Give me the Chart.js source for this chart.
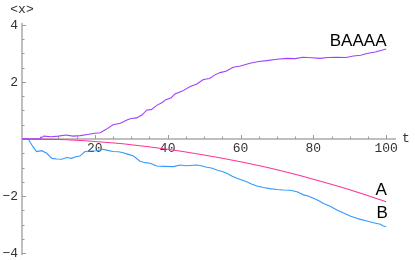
<!DOCTYPE html>
<html>
<head>
<meta charset="utf-8">
<script src="https://cdn.jsdelivr.net/npm/chart.js@4.4.0/dist/chart.umd.min.js"></script>
<style>
  html, body { margin: 0; padding: 0; background: #fff; }
</style>
</head>
<body>
<canvas id="myChart" width="415" height="260"></canvas>
<script>
// Data
const tA = [0, 10, 20, 30, 40, 50, 60, 70, 80, 90, 100];
const valuesA = [0, -0.02, -0.09, -0.2, -0.36, -0.56, -0.8, -1.08, -1.41, -1.78, -2.2];

const tB = [0, 1.7, 3, 4, 5.4, 6.8, 8.2, 9.5, 10.9, 12.3, 13.6, 14.8, 15.9, 17.3, 19, 20.5,
  22.3, 23.5, 25, 26.5, 27.8, 29.2, 30.6, 32.4, 33.8, 35.2, 37, 39, 41.6, 43.4, 45, 46.2,
  48, 49.5, 50.7, 52, 53.5, 55, 56.2, 57.6, 59, 60.4, 61.7, 63, 64.5, 66.3, 68.1, 70,
  71.8, 73.6, 75.5, 77.3, 78.6, 80, 81.4, 82.8, 84.6, 86.5, 88.3, 90.1, 91.5, 92.9,
  94.7, 96.5, 98.4, 99.2, 100];
const valuesB = [0, 0, -0.27, -0.44, -0.41, -0.5, -0.68, -0.7, -0.71, -0.65, -0.68, -0.62, -0.6, -0.44, -0.42, -0.41,
  -0.36, -0.4, -0.44, -0.45, -0.48, -0.54, -0.6, -0.78, -0.83, -0.85, -0.95, -0.96, -0.97, -0.91, -0.94, -0.93,
  -0.91, -0.95, -0.99, -1.02, -1.09, -1.14, -1.2, -1.3, -1.38, -1.44, -1.5, -1.58, -1.65, -1.7, -1.74, -1.77,
  -1.79, -1.8, -1.85, -1.96, -2.0, -2.08, -2.16, -2.26, -2.36, -2.49, -2.6, -2.7, -2.76, -2.82,
  -2.88, -2.94, -2.99, -3.05, -3.08];

const tBAAAA = [0, 2, 4, 5, 6, 8, 10, 12, 14, 16, 18, 20, 21.5, 23, 25, 27, 28.8, 30, 31.5, 33,
  34.3, 35.5, 37, 38.5, 39.5, 41, 42, 44, 46.2, 48, 49.8, 51.5, 53, 54.4, 56, 58, 60, 62.6,
  65, 67.2, 70, 72.7, 75, 77.2, 79.5, 81.9, 84, 86.4, 89, 91, 93, 94.7, 97, 100];
const valuesBAAAA = [0, 0, 0, 0.02, 0.1, 0.08, 0.1, 0.14, 0.1, 0.12, 0.16, 0.2, 0.22, 0.33, 0.5, 0.55, 0.67, 0.72, 0.74, 0.85,
  1.02, 1.03, 1.18, 1.28, 1.38, 1.45, 1.58, 1.68, 1.84, 1.93, 2.09, 2.12, 2.25, 2.33, 2.38, 2.52, 2.56, 2.66,
  2.72, 2.75, 2.8, 2.83, 2.82, 2.87, 2.85, 2.83, 2.86, 2.87, 2.86, 2.91, 2.94, 3.0, 3.05, 3.16];

const xTickLabels = [20, 40, 60, 80, 100];
const yTickLabels = [4, 2, -2, -4];

const toPoints = (ts, vs) => ts.map((t, i) => ({ x: t, y: vs[i] }));

const tickFont = '13px "Courier New", "Liberation Mono", monospace';
const curveFont = '17px "Liberation Sans", Arial, sans-serif';

// Mathematica-style axes crossing at the origin
const mathAxes = {
  id: 'mathAxes',
  beforeDatasetsDraw(chart) {
    const { ctx, scales: { x, y } } = chart;
    const x0 = x.getPixelForValue(0);
    const y0 = y.getPixelForValue(0);
    ctx.save();

    ctx.strokeStyle = '#aaaaaa';
    ctx.lineWidth = 1.5;
    ctx.beginPath();
    ctx.moveTo(x.left, y0);
    ctx.lineTo(x.right, y0);
    ctx.moveTo(x0, y.top);
    ctx.lineTo(x0, y.bottom);
    ctx.stroke();

    // tick marks
    ctx.strokeStyle = '#999999';
    ctx.lineWidth = 1;
    ctx.beginPath();
    for (let t = 5; t <= x.max; t += 5) {
      const px = Math.round(x.getPixelForValue(t)) + 0.5;
      const len = t % 20 === 0 ? 4 : 2.5;
      ctx.moveTo(px, y0);
      ctx.lineTo(px, y0 - len);
    }
    for (let v = -4; v <= 4; v += 0.5) {
      if (v === 0) continue;
      const py = Math.round(y.getPixelForValue(v)) + 0.5;
      const len = v % 2 === 0 ? 4 : 2.5;
      ctx.moveTo(x0, py);
      ctx.lineTo(x0 + len, py);
    }
    ctx.stroke();

    // tick labels
    ctx.fillStyle = '#333333';
    ctx.font = tickFont;
    ctx.textAlign = 'center';
    ctx.textBaseline = 'top';
    xTickLabels.forEach(t => {
      ctx.fillText(String(t), x.getPixelForValue(t), y0 + 3);
    });
    ctx.textAlign = 'right';
    ctx.textBaseline = 'middle';
    yTickLabels.forEach(v => {
      const label = v < 0 ? '\u2212' + Math.abs(v) : String(v);
      ctx.fillText(label, x0 - 4, y.getPixelForValue(v) + 1);
    });

    // axis labels
    ctx.textAlign = 'center';
    ctx.fillText('<x>', x0, 10);
    ctx.textAlign = 'left';
    ctx.fillText('t', x.right + 6, y0);
    ctx.restore();
  },
  afterDatasetsDraw(chart) {
    const { ctx, scales: { x, y } } = chart;
    ctx.save();
    ctx.fillStyle = '#000000';
    ctx.font = curveFont;
    ctx.textAlign = 'center';
    ctx.textBaseline = 'middle';
    ctx.fillText('BAAAA', x.getPixelForValue(92.3), y.getPixelForValue(3.44));
    ctx.fillText('A', x.getPixelForValue(98.6), y.getPixelForValue(-1.79));
    ctx.fillText('B', x.getPixelForValue(98.9), y.getPixelForValue(-2.6));
    ctx.restore();
  }
};

const ctx = document.getElementById('myChart');

// eslint-disable-next-line no-unused-vars
const myChart = new Chart(ctx, {
  type: 'line',
  data: {
    datasets: [{
      label: 'BAAAA',
      data: toPoints(tBAAAA, valuesBAAAA),
      borderColor: '#a040ff',
      borderWidth: 1.1,
      tension: 0
    }, {
      label: 'A',
      data: toPoints(tA, valuesA),
      borderColor: '#ff3399',
      borderWidth: 1.1,
      cubicInterpolationMode: 'monotone'
    }, {
      label: 'B',
      data: toPoints(tB, valuesB),
      borderColor: '#3399ff',
      borderWidth: 1.1,
      tension: 0
    }]
  },
  options: {
    responsive: false,
    animation: false,
    layout: {
      padding: { left: 22, right: 19, top: 23, bottom: 5 }
    },
    elements: {
      point: { radius: 0 }
    },
    scales: {
      x: { type: 'linear', min: 0, max: 102.7, display: false },
      y: { type: 'linear', min: -4.07, max: 4.07, display: false }
    },
    plugins: {
      legend: { display: false },
      tooltip: { enabled: false }
    }
  },
  plugins: [mathAxes]
});
</script>
</body>
</html>
